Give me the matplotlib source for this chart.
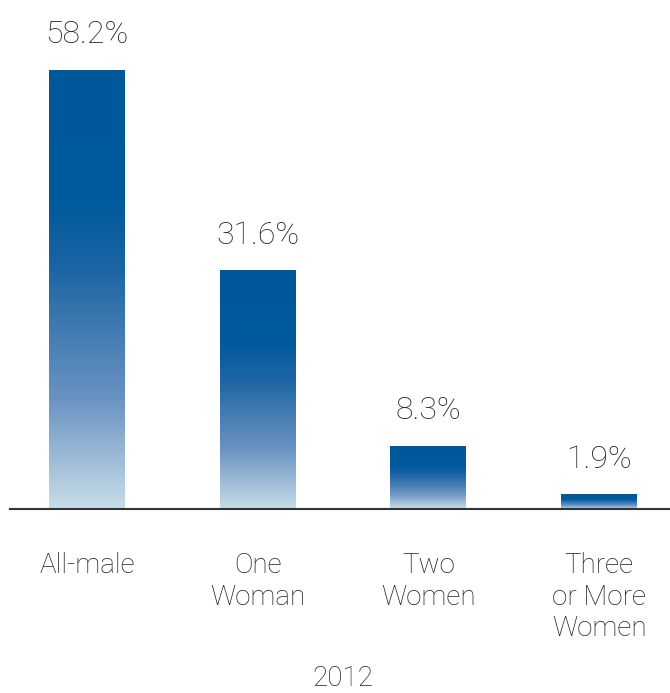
import numpy as np
import matplotlib
matplotlib.use("Agg")
import matplotlib.pyplot as plt
from matplotlib.colors import LinearSegmentedColormap

categories = ["All-male", "One\nWoman", "Two\nWomen", "Three\nor More\nWomen"]
values = [58.2, 31.6, 8.3, 1.9]
value_labels = ["58.2%", "31.6%", "8.3%", "1.9%"]
year = "2012"

plt.rcParams['font.family'] = ['Roboto', 'DejaVu Sans']
txt = '#231f20'
wt = 'light'

# light at bottom, dark blue at top
cmap = LinearSegmentedColormap.from_list(
    'bar', [(0.0, '#c8dde8'), (0.25, '#6a93c2'), (0.55, '#1c64a4'),
            (0.7, '#005a9c'), (1.0, '#00589a')])

fig = plt.figure(figsize=(6.7, 6.93), dpi=100)
ax = fig.add_axes([10 / 670, 1 - 509 / 693, 660 / 670, 509 / 693])

width = 0.445
grad = np.linspace(0, 1, 256).reshape(-1, 1)
for i, v in enumerate(values):
    ax.imshow(grad, cmap=cmap, origin='lower', aspect='auto',
              extent=(i - width / 2, i + width / 2, 0, v), zorder=2)
    ax.text(i, v + 2.8, value_labels[i], ha='center', va='bottom',
            fontsize=23, color=txt, fontweight=wt)

ax.set_xlim(-0.451, 3.416)
ax.set_ylim(0, 67.5)
for s in ['top', 'right', 'left']:
    ax.spines[s].set_visible(False)
ax.spines['bottom'].set_color('#333333')
ax.spines['bottom'].set_linewidth(1.5)
ax.set_yticks([])
ax.set_xticks(range(len(categories)))
ax.set_xticklabels(categories, fontsize=20, color=txt, linespacing=1.22,
                   fontweight=wt)
ax.tick_params(axis='x', length=0, pad=31)

fig.text(343 / 670, 1 - 678 / 693, year, ha='center', va='center',
         fontsize=20, color=txt, fontweight=wt)

fig.savefig('out.png', dpi=100)
